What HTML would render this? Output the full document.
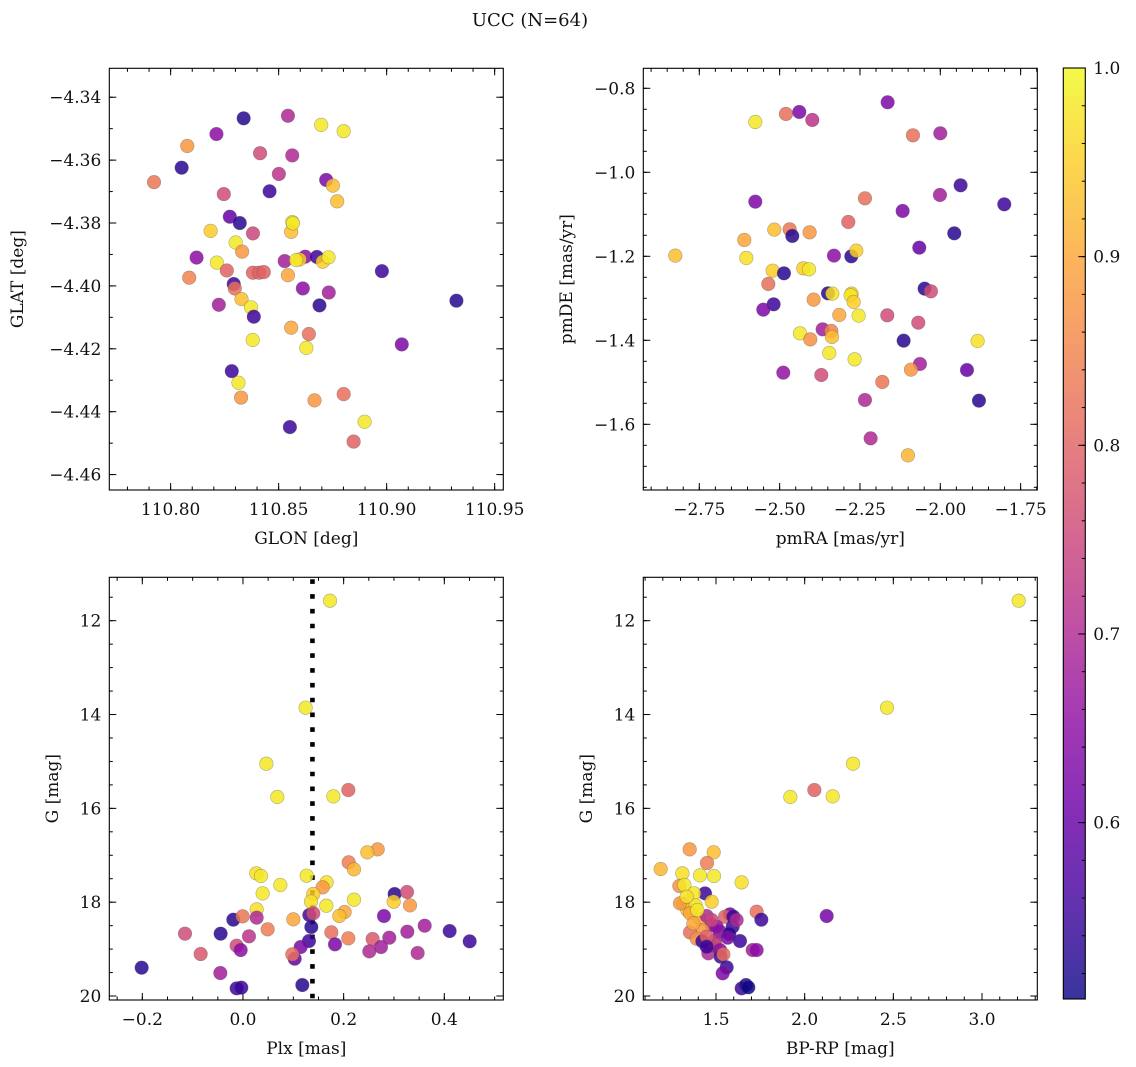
<!DOCTYPE html>
<html><head><meta charset="utf-8"><title>UCC (N=64)</title>
<style>
html,body{margin:0;padding:0;background:#fff;}
svg{display:block;font-family:"DejaVu Serif","Liberation Serif",serif;}
</style></head>
<body>
<svg id="fig" width="1136" height="1067" viewBox="0 0 1136 1067" xmlns="http://www.w3.org/2000/svg">
<defs>
<linearGradient id="plasma" x1="0" y1="1" x2="0" y2="0"></linearGradient>
</defs>
<text x="530" y="26" font-size="18" text-anchor="middle" fill="#111">UCC (N=64)</text>
</svg>
<script>
// ---- Panel 1: GLON / GLAT ----
const glon = [110.8338,110.8543,110.8697,110.8801,110.8212,110.8077,110.8414,110.8563,110.8051,110.7923,110.8501,110.8720,110.8751,110.8458,110.8246,110.8771,110.8274,110.8320,110.8563,110.8558,110.8185,110.8381,110.8301,110.8331,110.8120,110.8214,110.8528,110.8623,110.8597,110.8581,110.8677,110.8704,110.8731,110.8978,110.8260,110.8381,110.8409,110.8431,110.8086,110.8543,110.8292,110.8297,110.8612,110.8732,110.9323,110.8328,110.8223,110.8372,110.8689,110.8385,110.8558,110.8640,110.8380,110.8628,110.9070,110.8283,110.8314,110.8326,110.8666,110.8801,110.8898,110.8552,110.8847,110.8566];
const glat = [-4.3467,-4.3459,-4.3488,-4.3508,-4.3517,-4.3555,-4.3578,-4.3585,-4.3624,-4.3670,-4.3644,-4.3663,-4.3681,-4.3699,-4.3708,-4.3731,-4.3780,-4.3800,-4.3797,-4.3828,-4.3825,-4.3833,-4.3862,-4.3891,-4.3910,-4.3926,-4.3921,-4.3907,-4.3916,-4.3918,-4.3908,-4.3923,-4.3909,-4.3953,-4.3951,-4.3958,-4.3958,-4.3956,-4.3974,-4.3966,-4.3994,-4.4008,-4.4008,-4.4021,-4.4047,-4.4042,-4.4060,-4.4068,-4.4062,-4.4098,-4.4133,-4.4153,-4.4172,-4.4197,-4.4186,-4.4271,-4.4308,-4.4355,-4.4364,-4.4344,-4.4432,-4.4449,-4.4495,-4.3801];
const probA = [0.53,0.7,0.98,0.98,0.65,0.88,0.76,0.7,0.53,0.83,0.72,0.63,0.93,0.55,0.76,0.93,0.6,0.53,0.98,0.93,0.95,0.75,0.98,0.88,0.65,0.98,0.68,0.65,0.95,0.98,0.55,0.95,0.98,0.55,0.8,0.8,0.8,0.8,0.85,0.9,0.55,0.82,0.65,0.68,0.53,0.93,0.68,0.98,0.53,0.55,0.9,0.82,0.98,0.98,0.63,0.55,0.98,0.88,0.88,0.82,0.98,0.55,0.8,0.98];
// ---- Panel 2: pmRA / pmDE ----
const pmra = [-2.1639,-2.4803,-2.4388,-2.3984,-2.5757,-2.0851,-2.0000,-1.9368,-2.5757,-2.2345,-2.0011,-1.8009,-2.1172,-2.2863,-2.5166,-2.4689,-2.4606,-2.4067,-2.6100,-1.9565,-2.0654,-2.8247,-2.6037,-2.3309,-2.2770,-2.2614,-2.5218,-2.4865,-2.4264,-2.4087,-2.5353,-2.0488,-2.0291,-2.3496,-2.3361,-2.2760,-2.2791,-2.2697,-2.3942,-2.5187,-2.5508,-2.3143,-2.2542,-2.1650,-2.0685,-2.3662,-2.3392,-2.3372,-2.4367,-2.4046,-2.1141,-1.8839,-2.3455,-2.2666,-2.4886,-2.3703,-2.0633,-2.0913,-1.9170,-2.1805,-1.8797,-2.2345,-2.2168,-2.1007];
const pmde = [-0.8333,-0.8611,-0.8564,-0.8754,-0.8802,-0.9119,-0.9071,-1.0310,-1.0699,-1.0619,-1.0540,-1.0762,-1.0921,-1.1183,-1.1365,-1.1357,-1.1516,-1.1429,-1.1611,-1.1453,-1.1794,-1.1984,-1.2040,-1.1984,-1.2000,-1.1865,-1.2342,-1.2405,-1.2286,-1.2310,-1.2659,-1.2770,-1.2834,-1.2881,-1.2889,-1.2889,-1.2929,-1.3088,-1.3032,-1.3143,-1.3270,-1.3397,-1.3413,-1.3405,-1.3580,-1.3738,-1.3778,-1.3921,-1.3834,-1.3977,-1.4008,-1.4016,-1.4302,-1.4453,-1.4770,-1.4826,-1.4564,-1.4699,-1.4707,-1.4992,-1.5437,-1.5421,-1.6334,-1.6739];
const probB = [0.63,0.82,0.63,0.72,0.98,0.82,0.68,0.55,0.63,0.82,0.68,0.55,0.63,0.8,0.93,0.83,0.53,0.88,0.9,0.53,0.6,0.93,0.97,0.65,0.53,0.95,0.95,0.53,0.95,0.98,0.82,0.53,0.76,0.53,0.97,0.95,0.98,0.95,0.88,0.55,0.63,0.9,0.98,0.76,0.76,0.68,0.85,0.93,0.98,0.87,0.53,0.97,0.98,0.98,0.66,0.76,0.68,0.88,0.6,0.83,0.53,0.7,0.7,0.92];
// ---- Panel 3: Plx / G ----
const plx = [0.1729,0.1245,0.0464,0.0682,0.1795,0.2093,0.2676,0.2470,0.2100,0.2205,0.0265,0.0358,0.1265,0.0742,0.1662,0.1583,0.0391,0.1397,0.3013,0.3259,0.1351,0.1656,0.2205,0.2994,0.3318,0.0272,0.0272,-0.0192,-0.0007,0.2020,0.1914,0.1000,0.1318,0.1397,0.2801,0.1358,0.0490,-0.0444,-0.1152,0.0119,0.1755,0.3610,0.4106,0.3265,0.1311,0.1146,0.1828,0.2093,0.2576,0.2907,0.4504,-0.0126,-0.0046,-0.0841,0.1027,0.0980,0.2510,0.2742,0.3470,-0.2013,-0.0450,-0.0126,-0.0033,0.1179];
const gPlx = [11.574,13.854,15.048,15.758,15.744,15.609,16.874,16.938,17.151,17.300,17.385,17.442,17.435,17.634,17.577,17.684,17.812,17.826,17.826,17.783,17.989,18.075,17.947,17.989,18.068,18.153,18.330,18.373,18.302,18.210,18.295,18.366,18.274,18.238,18.295,18.529,18.579,18.671,18.671,18.728,18.643,18.501,18.615,18.629,18.828,18.956,18.899,18.771,18.785,18.757,18.835,18.927,19.020,19.105,19.204,19.112,19.048,18.956,19.083,19.396,19.510,19.837,19.822,19.766];
const probC = [0.98,0.98,0.98,0.98,0.98,0.8,0.88,0.93,0.84,0.92,0.97,0.98,0.98,0.98,0.97,0.88,0.98,0.95,0.53,0.76,0.97,0.98,0.98,0.95,0.88,0.97,0.7,0.53,0.83,0.9,0.93,0.9,0.55,0.76,0.63,0.53,0.84,0.53,0.76,0.72,0.82,0.68,0.55,0.68,0.55,0.63,0.63,0.84,0.78,0.68,0.55,0.76,0.65,0.78,0.6,0.82,0.7,0.68,0.7,0.53,0.68,0.55,0.55,0.53];
const plxMedian = [0.138];
// ---- Panel 4: BP-RP / G ----
const bprp = [3.2068,2.4643,2.2726,1.9192,2.1579,2.0545,1.3515,1.4868,1.4492,1.1880,1.3101,1.4098,1.4887,1.6447,1.2932,1.3214,1.4380,1.3759,1.4756,1.3158,1.3383,1.3853,1.3534,1.4098,1.4474,1.5789,1.5508,1.7293,1.7556,2.1241,1.5940,1.4756,1.4229,1.3534,1.5226,1.5752,1.5658,1.3910,1.4229,1.4944,1.6353,1.4662,1.4944,1.4568,1.5226,1.7068,1.7293,1.5263,1.5414,1.5602,1.5376,1.6447,1.6692,1.6823,1.3947,1.2970,1.4474,1.5038,1.5977,1.3722,1.4756,1.4474,1.6165,1.3346];
const gCmd = [11.574,13.854,15.048,15.758,15.744,15.609,16.874,16.938,17.165,17.293,17.385,17.428,17.442,17.577,17.655,17.634,17.812,17.812,17.989,18.039,18.167,18.068,18.238,18.366,18.295,18.259,18.309,18.203,18.373,18.295,18.522,18.487,18.593,18.643,18.629,18.679,18.757,18.778,18.835,18.806,18.828,18.927,18.913,19.091,19.020,19.020,19.020,19.162,19.112,19.389,19.517,19.837,19.766,19.815,18.167,18.025,18.735,18.522,18.309,18.451,18.380,18.949,18.380,17.883];
const probD = [0.98,0.98,0.98,0.98,0.98,0.8,0.88,0.93,0.84,0.92,0.97,0.98,0.98,0.97,0.87,0.98,0.55,0.98,0.95,0.93,0.93,0.97,0.9,0.92,0.7,0.62,0.8,0.82,0.55,0.62,0.55,0.68,0.88,0.82,0.63,0.53,0.63,0.87,0.55,0.7,0.55,0.63,0.76,0.7,0.65,0.68,0.65,0.55,0.82,0.55,0.63,0.55,0.53,0.5,0.98,0.88,0.8,0.65,0.55,0.9,0.75,0.55,0.7,0.97];
// colour bar ticks
const cbarTicks = [0.6,0.7,0.8,0.9,1.0];

const NS = "http://www.w3.org/2000/svg";
const svg = document.getElementById('fig');
const VMIN = 0.5065, VMAX = 1.0;
const FS = 17;
const plasmaStops = [[0,'#0d0887'],[0.1,'#41049d'],[0.2,'#6a00a8'],[0.3,'#8f0da4'],[0.4,'#b12a90'],[0.5,'#cc4778'],[0.6,'#e16462'],[0.7,'#f2844b'],[0.8,'#fca636'],[0.9,'#fcce25'],[1,'#f0f921']];
function hex(h){return [parseInt(h.substr(1,2),16),parseInt(h.substr(3,2),16),parseInt(h.substr(5,2),16)];}
function plasma(t){
  t=Math.max(0,Math.min(1,t));
  for(let i=0;i<plasmaStops.length-1;i++){
    const a=plasmaStops[i],b=plasmaStops[i+1];
    if(t<=b[0]){const f=(t-a[0])/(b[0]-a[0]);const ca=hex(a[1]),cb=hex(b[1]);
      return 'rgb('+ca.map((v,k)=>Math.round(v+(cb[k]-v)*f)).join(',')+')';}
  }
  return plasmaStops[plasmaStops.length-1][1];
}
function mk(tag,attrs,parent){const e=document.createElementNS(NS,tag);for(const k in attrs)e.setAttribute(k,attrs[k]);(parent||svg).appendChild(e);return e;}
function fmt(v,d){const s=Math.abs(v).toFixed(d);return (v<-1e-9?'\u2212':'')+s;}

function panel(cfg){
  const g=mk('g',{});
  
  
  const {L,R,T,B}=cfg;
  const sx=v=>L+(v-cfg.x0)/(cfg.x1-cfg.x0)*(R-L);
  const sy=v=>B-(v-cfg.y0)/(cfg.y1-cfg.y0)*(B-T);
  function ticks(lo,hi,step){
    const a=Math.min(lo,hi),b=Math.max(lo,hi);const out=[];
    for(let i=Math.ceil(a/step-1e-6);i<=Math.floor(b/step+1e-6);i++)out.push(i*step);return out;}
  const tg=mk('g',{stroke:'#000','stroke-width':1},g);
  ticks(cfg.x0,cfg.x1,cfg.xmin).forEach(v=>{const x=sx(v);mk('line',{x1:x,x2:x,y1:B,y2:B-3.5},tg);mk('line',{x1:x,x2:x,y1:T,y2:T+3.5},tg);});
  ticks(cfg.y0,cfg.y1,cfg.ymin).forEach(v=>{const y=sy(v);mk('line',{x1:L,x2:L+3.5,y1:y,y2:y},tg);mk('line',{x1:R,x2:R-3.5,y1:y,y2:y},tg);});
  ticks(cfg.x0,cfg.x1,cfg.xmaj).forEach(v=>{const x=sx(v);mk('line',{x1:x,x2:x,y1:B,y2:B-7},tg);mk('line',{x1:x,x2:x,y1:T,y2:T+7},tg);
    const t=mk('text',{x:x,y:B+25,'font-size':FS,'text-anchor':'middle',fill:'#111'},g);t.textContent=fmt(v,cfg.xd);
    
    });
  ticks(cfg.y0,cfg.y1,cfg.ymaj).forEach(v=>{const y=sy(v);mk('line',{x1:L,x2:L+7,y1:y,y2:y},tg);mk('line',{x1:R,x2:R-7,y1:y,y2:y},tg);
    const t=mk('text',{x:L-8,y:y+6,'font-size':FS,'text-anchor':'end',fill:'#111'},g);t.textContent=fmt(v,cfg.yd);
    
    });
  if(cfg.vline!==undefined){const x=sx(cfg.vline);const l=mk('line',{x1:x,x2:x,y1:T,y2:B,stroke:'#000','stroke-width':4.6,'stroke-dasharray':'4.6 10.2','stroke-dashoffset':-2},g);
    
    }
  const pg=mk('g',{},g);
  cfg.xs.forEach((_,i)=>{
    const c=mk('circle',{cx:sx(cfg.xs[i]),cy:sy(cfg.ys[i]),r:6.8,fill:plasma((cfg.cs[i]-VMIN)/(VMAX-VMIN)),'fill-opacity':0.85,stroke:'#555','stroke-opacity':0.45,'stroke-width':0.6},pg);
    
    
  });
  const fr=mk('rect',{x:L,y:T,width:R-L,height:B-T,fill:'none',stroke:'#000','stroke-width':1.1},g);
  
  
  const xl=mk('text',{x:(L+R)/2,y:B+54,'font-size':FS,'text-anchor':'middle',fill:'#111'},g);xl.textContent=cfg.xlabel;
  
  
  const yl=mk('text',{x:0,y:0,'font-size':FS,'text-anchor':'middle',fill:'#111',transform:'translate('+cfg.ylx+','+((T+B)/2)+') rotate(-90)'},g);yl.textContent=cfg.ylabel;
  
  
}

panel({name:'glon-glat-panel',L:109.3,R:503.3,T:68.3,B:490,x0:110.7716,x1:110.954,y0:-4.4649,y1:-4.3308,xmaj:0.05,xmin:0.01,ymaj:0.02,ymin:0.01,xd:2,yd:2,xs:glon,ys:glat,cs:probA,xlabel:'GLON [deg]',ylabel:'GLAT [deg]',ylx:23});
panel({name:'pm-panel',L:643.3,R:1037.3,T:68.3,B:490,x0:-2.9243,x1:-1.6981,y0:-1.7564,y1:-0.7524,xmaj:0.25,xmin:0.05,ymaj:0.2,ymin:0.05,xd:2,yd:1,xs:pmra,ys:pmde,cs:probB,xlabel:'pmRA [mas/yr]',ylabel:'pmDE [mas/yr]',ylx:572});
panel({name:'plx-g-panel',L:109.3,R:503.3,T:577.3,B:1000,x0:-0.2656,x1:0.5172,y0:20.085,y1:11.075,xmaj:0.2,xmin:0.05,ymaj:2,ymin:0.5,xd:1,yd:0,xs:plx,ys:gPlx,cs:probC,xlabel:'Plx [mas]',ylabel:'G [mag]',ylx:58,vline:plxMedian[0]});
panel({name:'cmd-panel',L:643.3,R:1037.3,T:577.3,B:1000,x0:1.090,x1:3.3118,y0:20.085,y1:11.075,xmaj:0.5,xmin:0.1,ymaj:2,ymin:0.5,xd:1,yd:0,xs:bprp,ys:gCmd,cs:probD,xlabel:'BP-RP [mag]',ylabel:'G [mag]',ylx:592});

(function(){
  const grad=document.getElementById('plasma');
  plasmaStops.forEach(s=>mk('stop',{offset:s[0],'stop-color':s[1]},grad));
  const L=1063.3,R=1085.3,T=68,B=999;
  const cg=mk('g',{});
  
  
  const sy=v=>B-(v-VMIN)/(VMAX-VMIN)*(B-T);
  mk('rect',{x:L,y:T,width:R-L,height:B-T,fill:'url(#plasma)','fill-opacity':0.82},cg);
  for(let i=Math.ceil(VMIN/0.02-1e-6);i<=Math.floor(VMAX/0.02+1e-6);i++){const y=sy(i*0.02);mk('line',{x1:R,x2:R-3.5,y1:y,y2:y,stroke:'#000','stroke-width':1},cg);}
  cbarTicks.forEach(v=>{const y=sy(v);mk('line',{x1:R,x2:R-7,y1:y,y2:y,stroke:'#000','stroke-width':1},cg);
    const t=mk('text',{x:R+8,y:y+6,'font-size':FS,fill:'#111'},cg);t.textContent=v.toFixed(1);
    
    });
  mk('rect',{x:L,y:T,width:R-L,height:B-T,fill:'none',stroke:'#000','stroke-width':1.1},cg);
})();
</script>
</body></html>
